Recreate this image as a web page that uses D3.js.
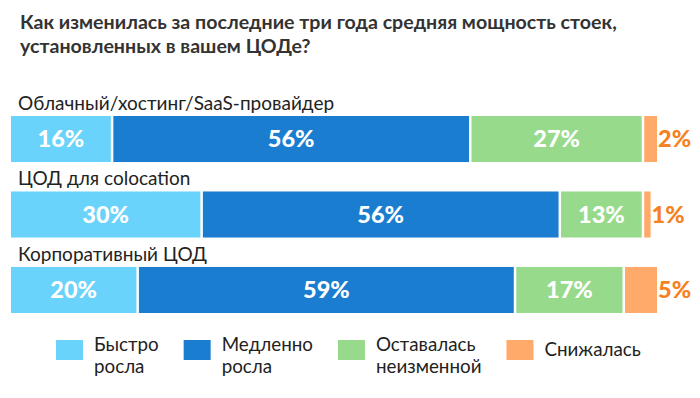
<!DOCTYPE html>
<html><head><meta charset="utf-8">
<script src="https://cdn.jsdelivr.net/npm/d3@7/dist/d3.min.js"></script>
<style>body{margin:0;background:#fff}svg{display:block}</style>
</head><body>
<svg id="chart" width="700" height="398"></svg>
<script>
const titleLines = ["Как изменилась за последние три года средняя мощность стоек,", "установленных в вашем ЦОДе?"];
const categories = ["Облачный/хостинг/SaaS-провайдер", "ЦОД для colocation", "Корпоративный ЦОД"];
const seriesNames = ["Быстро\nросла", "Медленно\nросла", "Оставалась\nнеизменной", "Снижалась"];
const fastGrew = [16, 30, 20];
const slowGrew = [56, 56, 59];
const unchanged = [27, 13, 17];
const decreased = [2, 1, 5];
const colors = ["#69D3FB", "#1A7DD0", "#97DA8B", "#FFAA6A"];

const series = [fastGrew, slowGrew, unchanged, decreased];
const rows = categories.map((c, i) => {
  let cum = 0;
  return { cat: c, segs: series.map((s, j) => { const o = { j, v: s[i], x0: cum, x1: cum + s[i] }; cum += s[i]; return o; }) };
});

const svg = d3.select("#chart");
const font = "Lato, 'Open Sans', sans-serif";

const x = d3.scaleLinear().domain([0, 101]).range([11, 657]);
const y = d3.scaleBand().domain(categories).range([116, 313]).paddingInner(0.39).paddingOuter(0);
const color = d3.scaleOrdinal().domain(d3.range(4)).range(colors);
const gap = 2.5;

// title
svg.append("g").selectAll("text").data(titleLines).join("text")
  .attr("x", 20).attr("y", (d, i) => 29 + i * 24)
  .attr("font-family", font).attr("font-weight", 700).attr("font-size", 19.6)
  .attr("fill", "#333").text(d => d);

const g = svg.append("g").selectAll("g").data(rows).join("g")
  .attr("transform", d => `translate(0,${y(d.cat)})`);

g.append("text").attr("x", 18).attr("y", -6)
  .attr("font-family", font).attr("font-size", 19).attr("fill", "#222")
  .text(d => d.cat);

g.selectAll("rect").data(d => d.segs).join("rect")
  .attr("x", d => x(d.x0))
  .attr("width", d => Math.max(1, x(d.x1) - x(d.x0) - (d.j < 3 ? gap : 0)))
  .attr("y", 0).attr("height", y.bandwidth())
  .attr("fill", d => color(d.j));

g.selectAll("text.val").data(d => d.segs).join("text").attr("class", "val")
  .attr("x", d => d.j < 3 ? (x(d.x0) + x(d.x1) - gap) / 2 : x(d.x1) + 1)
  .attr("y", y.bandwidth() / 2)
  .attr("dy", "0.36em")
  .attr("text-anchor", d => d.j < 3 ? "middle" : "start")
  .attr("font-family", font).attr("font-weight", 900).attr("font-size", 23.5)
  .attr("fill", d => d.j < 3 ? "#fff" : "#F5821F")
  .text(d => d.v + "%");

// legend
const leg = svg.append("g");
let lx = 56;
seriesNames.forEach((name, i) => {
  const item = leg.append("g").attr("transform", `translate(${lx},340)`);
  item.append("rect").attr("width", 27).attr("height", 20).attr("fill", colors[i]);
  const lines = name.split("\n");
  const t = item.append("text").attr("font-family", font).attr("font-size", 18.8).attr("fill", "#222");
  lines.forEach((l, k) => {
    t.append("tspan").attr("x", 38).attr("y", lines.length > 1 ? 11 + k * 22 : 16).text(l);
  });
  const w = t.node().getBBox().width;
  lx += 38 + w + 25;
});
</script>
</body></html>
